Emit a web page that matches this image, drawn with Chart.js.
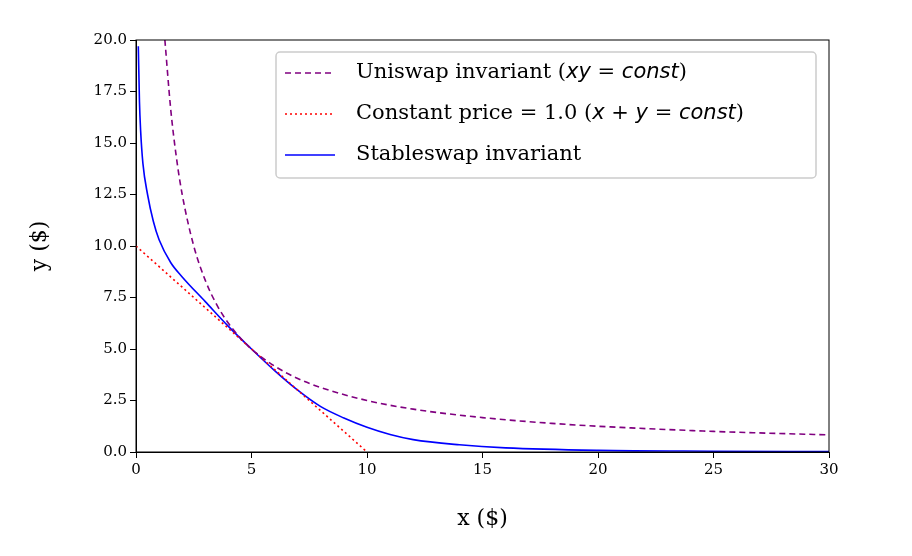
<!DOCTYPE html>
<html><head><meta charset="utf-8">
<script src="https://cdn.jsdelivr.net/npm/chart.js@4"></script>
<style>html,body{margin:0;background:#fff}#w{width:912px;height:556px}</style>
</head><body><div id="w"><canvas id="c"></canvas></div>
<script>
const uniX=[1.25,1.5,1.75,2,2.5,3,3.5,4,4.5,5,6,7,8,10,12,15,18,20,25,30];
const uniY=[20,16.67,14.29,12.5,10,8.33,7.14,6.25,5.56,5,4.17,3.57,3.13,2.5,2.08,1.67,1.39,1.25,1,0.83];
const linX=[0,2,4,6,8,10];
const linY=[10,8,6,4,2,0];
const stX=[0.1,0.15,0.2,0.3,0.5,0.75,1,1.5,2,3,4,5,6,7,8,9,10,11,12,14,16,20,25,30];
const stY=[19.7,17.0,15.6,14.0,12.5,11.2,10.3,9.2,8.5,7.3,6.1,5.0,3.95,3.0,2.2,1.65,1.2,0.85,0.6,0.35,0.2,0.08,0.04,0.02];
const xTicks=[0,5,10,15,20,25,30];
const yTicks=[0,2.5,5,7.5,10,12.5,15,17.5,20];
const pts=(xs,ys)=>xs.map((x,i)=>({x,y:ys[i]}));
const F='"DejaVu Serif", serif';
const legendItems=[
 {color:'purple',dash:[6,4],parts:[['Uniswap invariant (',0],['xy',1],[' = ',0],['const',1],[')',0]]},
 {color:'red',dash:[2,3],parts:[['Constant price = 1.0 (',0],['x',1],[' + ',0],['y',1],[' = ',0],['const',1],[')',0]]},
 {color:'blue',dash:[],parts:[['Stableswap invariant',0]]}];
const deco={id:'deco',afterDraw(ch){const c=ch.ctx,a=ch.chartArea;c.save();
 c.strokeStyle='#000';c.lineWidth=1;c.strokeRect(a.left,a.top,a.right-a.left,a.bottom-a.top);
 c.fillStyle='#000';c.font='22px '+F;c.textAlign='center';c.textBaseline='middle';
 c.fillText('x ($)',(a.left+a.right)/2,519);
 c.save();c.translate(40,(a.top+a.bottom)/2);c.rotate(-Math.PI/2);c.fillText('y ($)',0,0);c.restore();
 c.textAlign='left';
 const lx=276,ly=52,lw=540,lh=126;
 c.fillStyle='rgba(255,255,255,0.85)';c.strokeStyle='#ccc';c.lineWidth=1.5;
 c.beginPath();c.roundRect(lx,ly,lw,lh,4);c.fill();c.stroke();
 legendItems.forEach((it,i)=>{const y=ly+21+i*41;
  c.strokeStyle=it.color;c.lineWidth=1.6;c.setLineDash(it.dash);
  c.beginPath();c.moveTo(285,y);c.lineTo(335,y);c.stroke();c.setLineDash([]);
  let x=356;c.fillStyle='#000';c.textBaseline='middle';
  it.parts.forEach(([t,it2])=>{c.font=(it2?'italic 21px "DejaVu Sans", sans-serif':'21px '+F);c.fillText(t,x,y);x+=c.measureText(t).width;});
 });c.restore();}};
const ds=(d,color,dash)=>({data:d,borderColor:color,borderDash:dash,borderWidth:1.6,pointRadius:0,fill:false,cubicInterpolationMode:'monotone'});
new Chart(document.getElementById('c'),{type:'line',
 data:{datasets:[ds(pts(uniX,uniY),'purple',[6,4]),ds(pts(linX,linY),'red',[2,3]),ds(pts(stX,stY),'blue',[])]},
 options:{animation:false,responsive:true,maintainAspectRatio:false,
  layout:{padding:{top:40,right:83,left:0,bottom:0}},
  plugins:{legend:{display:false},tooltip:{enabled:false}},
  scales:{
   x:{type:'linear',min:0,max:30,afterBuildTicks:s=>{s.ticks=xTicks.map(v=>({value:v}))},
    afterFit:s=>{s.height=104},
    grid:{drawOnChartArea:false,tickLength:6,color:'#000'},border:{color:'#000'},
    ticks:{color:'#000',font:{family:F,size:15},maxRotation:0}},
   y:{type:'linear',min:0,max:20,afterBuildTicks:s=>{s.ticks=yTicks.map(v=>({value:v}))},
    afterFit:s=>{s.width=136},
    grid:{drawOnChartArea:false,tickLength:6,color:'#000'},border:{color:'#000'},
    ticks:{color:'#000',font:{family:F,size:15},callback:v=>v.toFixed(1)}}}},
 plugins:[deco]});
</script></body></html>
